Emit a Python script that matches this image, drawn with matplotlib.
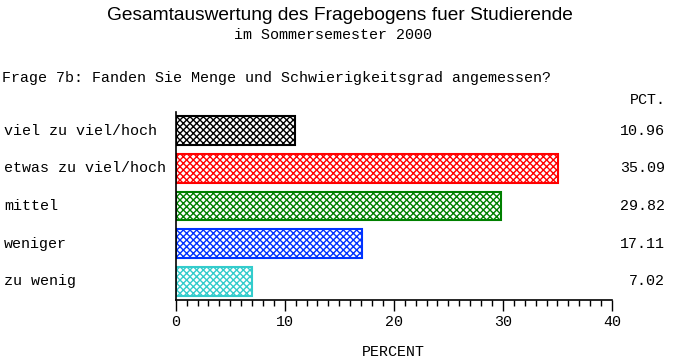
import matplotlib
matplotlib.use("Agg")
import matplotlib.pyplot as plt
from matplotlib.transforms import blended_transform_factory
from matplotlib.ticker import MultipleLocator

categories = ["viel zu viel/hoch", "etwas zu viel/hoch", "mittel", "weniger", "zu wenig"]
percent = [10.96, 35.09, 29.82, 17.11, 7.02]
colors = ["#000000", "#ff0000", "#008000", "#0033ff", "#33cccc"]

MONO = "Liberation Mono"
fs = 10.85

plt.rcParams["hatch.linewidth"] = 1.0

fig = plt.figure(figsize=(6.85, 3.64), dpi=100)
ax = fig.add_axes([175.7 / 685, 64 / 364, (612 - 175.7) / 685, 188 / 364])

for i, (v, c) in enumerate(zip(percent, colors)):
    ax.barh(i, v, height=0.77, color="white", edgecolor=c, hatch="xxxxx", linewidth=1.5)

ax.set_xlim(0, 40)
ax.set_ylim(4.5, -0.5)
ax.spines["top"].set_visible(False)
ax.spines["right"].set_visible(False)
ax.spines["left"].set_linewidth(1.2)
ax.spines["bottom"].set_linewidth(1.2)
ax.set_yticks([])
ax.xaxis.set_major_locator(MultipleLocator(10))
ax.xaxis.set_minor_locator(MultipleLocator(1))
ax.tick_params(axis="x", which="major", length=8, width=1, pad=3)
ax.tick_params(axis="x", which="minor", length=4, width=1)
for lab in ax.get_xticklabels():
    lab.set_fontfamily(MONO)
    lab.set_fontsize(fs)

tr = blended_transform_factory(fig.transFigure, ax.transData)
for i, (cat, v) in enumerate(zip(categories, percent)):
    ax.text(4 / 685, i, cat, transform=tr, ha="left", va="center",
            fontfamily=MONO, fontsize=fs)
    ax.text(665 / 685, i, f"{v:.2f}", transform=tr, ha="right", va="center",
            fontfamily=MONO, fontsize=fs)

fig.text(393 / 685, 1 - 352 / 364, "PERCENT", ha="center", va="center", fontfamily=MONO, fontsize=fs)
fig.text(666 / 685, 1 - 100 / 364, "PCT.", ha="right", va="center", fontfamily=MONO, fontsize=fs)
fig.text(340 / 685, 1 - 16 / 364, "Gesamtauswertung des Fragebogens fuer Studierende",
         ha="center", va="center", fontfamily="Liberation Sans", fontsize=13.8)
fig.text(333 / 685, 1 - 35 / 364, "im Sommersemester 2000",
         ha="center", va="center", fontfamily=MONO, fontsize=fs)
fig.text(2 / 685, 1 - 78 / 364, "Frage 7b: Fanden Sie Menge und Schwierigkeitsgrad angemessen?",
         ha="left", va="center", fontfamily=MONO, fontsize=fs)

fig.savefig("out.png", dpi=100)
